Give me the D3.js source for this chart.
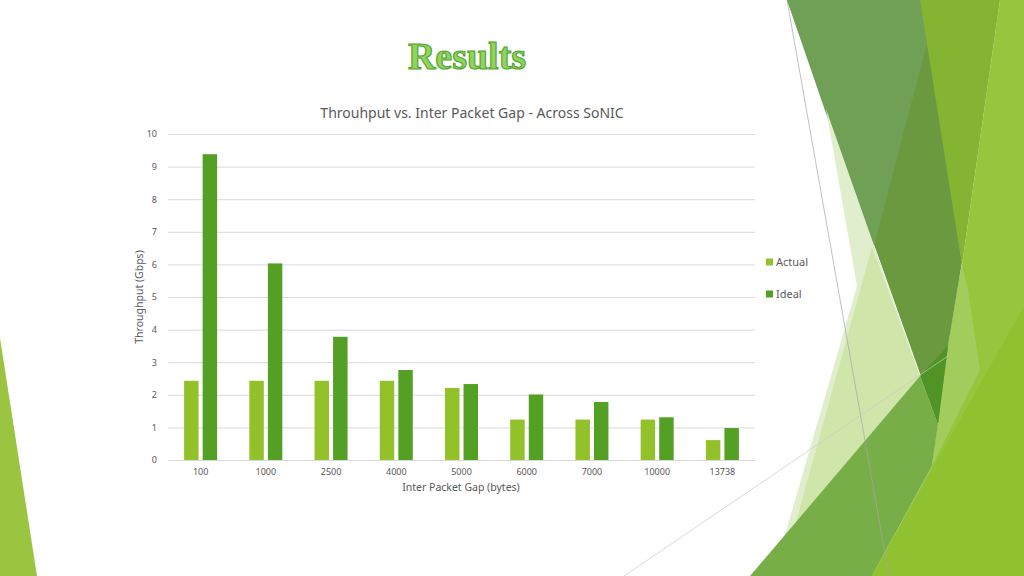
<!DOCTYPE html>
<html>
<head>
<meta charset="utf-8">
<script src="https://cdn.jsdelivr.net/npm/d3@7"></script>
<style>
  html, body { margin: 0; padding: 0; background: #fff; }
  svg { display: block; }
  text { font-family: "Noto Sans", "Open Sans", sans-serif; }
</style>
</head>
<body>
<svg id="canvas" width="1024" height="576"></svg>
<script>
const gaps = ['100', '1000', '2500', '4000', '5000', '6000', '7000', '10000', '13738'];
const actual = [2.43, 2.43, 2.43, 2.43, 2.21, 1.24, 1.24, 1.24, 0.61];
const ideal = [9.38, 6.03, 3.78, 2.76, 2.33, 2.01, 1.78, 1.31, 0.98];
const seriesNames = ['Actual', 'Ideal'];
const seriesColors = ['#92c12a', '#54a024'];
const yTicks = [0, 1, 2, 3, 4, 5, 6, 7, 8, 9, 10];

const svg = d3.select('#canvas');

// slide theme facets (decoration behind the chart)
const facets = [
    { fill: '#9bc440', pts: [[0, 338], [37, 576], [0, 576]] },
    { fill: '#97c63e', pts: [[1000, 0], [1024, 0], [1024, 576], [872, 576], [932, 466], [938, 424], [948, 346], [958, 286], [962, 265]] },
    { fill: '#a2cd5c', pts: [[962, 265], [968, 290], [980, 370], [932, 466], [938, 424], [948, 346], [958, 286]] },
    { fill: '#6a9940', pts: [[787, 0], [922, 0], [962, 262], [958, 286], [948, 346], [938, 424]] },
    { fill: '#70a055', pts: [[787, 0], [922, 0], [927, 43], [873, 250]] },
    { fill: '#84b431', pts: [[920, 0], [1000, 0], [962, 265]] },
    { fill: '#e1eecd', pts: [[826, 109], [857, 286], [785, 535], [920, 376]] },
    { fill: '#d0e5a9', pts: [[872, 247], [920, 376], [796, 522]] },
    { fill: '#77ae48', pts: [[920, 376], [938, 424], [932, 466], [872, 576], [750, 576]] },
    { fill: '#4f9424', pts: [[920, 376], [948, 346], [938, 424]] },
    { fill: '#90c130', pts: [[1024, 306], [1024, 576], [872, 576]] }
];

svg.append('rect').attr('width', 1024).attr('height', 576).attr('fill', '#fff');

svg.selectAll('polygon.facet')
    .data(facets)
    .enter()
    .append('polygon')
    .attr('class', 'facet')
    .attr('points', f => f.pts.map(p => p.join(',')).join(' '))
    .attr('fill', f => f.fill);

svg.append('line').attr('x1', 787).attr('y1', 0).attr('x2', 889).attr('y2', 576)
    .attr('stroke', '#a6a6a6').attr('stroke-width', 0.7);
svg.append('line').attr('x1', 948).attr('y1', 356).attr('x2', 624).attr('y2', 576)
    .attr('stroke', '#c8c8c8').attr('stroke-width', 0.7);

// slide title
svg.append('text')
    .text('Results')
    .attr('x', 467)
    .attr('y', 69)
    .attr('text-anchor', 'middle')
    .style('font-family', '"Liberation Serif", serif')
    .style('font-weight', 'bold')
    .style('font-size', '38px')
    .attr('fill', '#92d35c')
    .attr('stroke', '#4ea42c')
    .attr('stroke-width', 1.1);

// chart
const x = d3.scaleBand().domain(gaps).range([168, 755]);
const groupWidth = 33;
const xInner = d3.scaleBand().domain(seriesNames).range([0, groupWidth]).paddingInner(0.22);
const y = d3.scaleLinear().domain([0, 10]).range([460, 134]);

svg.append('text')
    .text('Throuhput vs. Inter Packet Gap - Across SoNIC')
    .attr('x', 472)
    .attr('y', 118)
    .attr('text-anchor', 'middle')
    .style('font-size', '14px')
    .attr('fill', '#595959');

const yAxis = svg.append('g')
    .attr('transform', 'translate(168,0)')
    .call(d3.axisLeft(y).tickValues(yTicks).tickSize(-587).tickPadding(11));
yAxis.select('.domain').remove();
yAxis.selectAll('.tick line').attr('stroke', '#d9d9d9').attr('stroke-width', 1);
yAxis.selectAll('.tick text').attr('fill', '#595959').style('font-size', '9px');

const xAxis = svg.append('g')
    .attr('transform', 'translate(0,460)')
    .call(d3.axisBottom(x).tickSize(0).tickPadding(9));
xAxis.select('.domain').attr('stroke', '#d9d9d9');
xAxis.selectAll('.tick text').attr('fill', '#595959').style('font-size', '9px');

const rows = gaps.map((g, i) => ({ gap: g, values: [actual[i], ideal[i]] }));

const groups = svg.selectAll('g.group')
    .data(rows)
    .enter()
    .append('g')
    .attr('class', 'group')
    .attr('transform', d => `translate(${x(d.gap) + (x.bandwidth() - groupWidth) / 2},0)`);

groups.selectAll('rect')
    .data(d => d.values.map((v, k) => ({ name: seriesNames[k], value: v, color: seriesColors[k] })))
    .enter()
    .append('rect')
    .attr('x', d => xInner(d.name))
    .attr('y', d => y(d.value))
    .attr('width', xInner.bandwidth())
    .attr('height', d => y(0) - y(d.value))
    .attr('fill', d => d.color);

svg.append('text')
    .text('Inter Packet Gap (bytes)')
    .attr('x', 461)
    .attr('y', 491)
    .attr('text-anchor', 'middle')
    .style('font-size', '10.5px')
    .attr('fill', '#595959');

svg.append('text')
    .text('Throughput (Gbps)')
    .attr('transform', 'translate(143,297) rotate(-90)')
    .attr('text-anchor', 'middle')
    .style('font-size', '10.5px')
    .attr('fill', '#595959');

// legend
const legend = svg.selectAll('g.legend')
    .data(seriesNames)
    .enter()
    .append('g')
    .attr('class', 'legend')
    .attr('transform', (d, i) => `translate(766,${262 + i * 32})`);

legend.append('rect')
    .attr('x', 0)
    .attr('y', -3.5)
    .attr('width', 7)
    .attr('height', 7)
    .attr('fill', (d, i) => seriesColors[i]);

legend.append('text')
    .text(d => d)
    .attr('x', 10)
    .attr('y', 4)
    .style('font-size', '11px')
    .attr('fill', '#595959');
</script>
</body>
</html>
